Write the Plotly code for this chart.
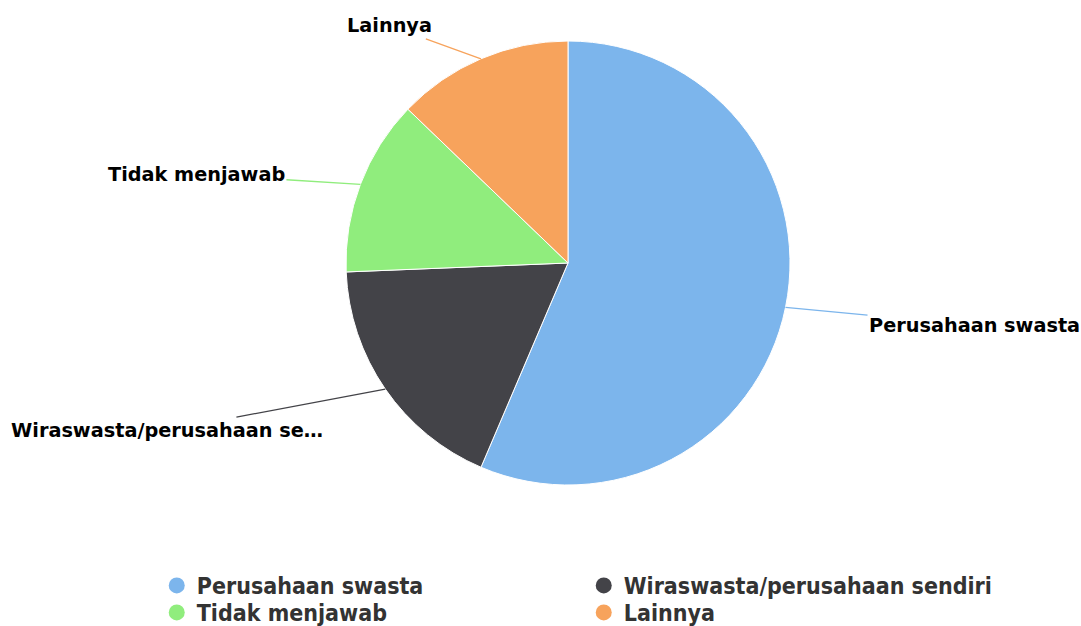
import math
import plotly.graph_objects as go

# Pie chart in Highcharts style, labels outside with connectors

labels = ["Perusahaan swasta", "Wiraswasta/perusahaan sendiri", "Tidak menjawab", "Lainnya"]
values = [22, 7, 5, 5]
colors = ["#7cb5ec", "#434348", "#90ed7d", "#f7a35c"]

W, H = 1081, 626
CX, CY, R = 568, 263, 222

# label offsets (px) from the slice edge to the text centre
label_offsets = [(189, 18), (-218, 41), (-164, -10), (-91, -33)]


def short(txt, n=24):
    return txt if len(txt) <= n else txt[:n] + "…"


fig = go.Figure()

fig.add_trace(go.Pie(
    labels=labels,
    values=values,
    sort=False,
    direction="clockwise",
    rotation=0,
    marker=dict(colors=colors, line=dict(color="white", width=1)),
    textinfo="none",
    showlegend=False,
    hoverinfo="label+percent",
    domain=dict(x=[(CX - R) / W, (CX + R) / W], y=[1 - (CY + R) / H, 1 - (CY - R) / H]),
))

# legend entries with round symbols, two per row (one legend per row)
for i, (lab, col) in enumerate(zip(labels, colors)):
    fig.add_trace(go.Scatter(
        x=[None], y=[None], mode="markers", name=lab,
        legend="legend" if i < 2 else "legend2",
        marker=dict(color=col, size=18, symbol="circle"),
    ))

# outside labels with connector lines
total = sum(values)
start = 0.0
annotations = []
for lab, val, col, (ox, oy) in zip(labels, values, colors, label_offsets):
    mid = (start + val / 2) / total * 2 * math.pi
    start += val
    ex = CX + R * math.sin(mid)
    ey = CY - R * math.cos(mid)
    annotations.append(dict(
        x=ex / W, y=1 - ey / H, xref="paper", yref="paper",
        text=short(lab), showarrow=True, arrowhead=0, arrowwidth=1.3,
        arrowcolor=col, ax=ox, ay=oy, standoff=0,
        font=dict(family="DejaVu Sans", size=19.3, color="#000000", weight="bold"),
    ))

legend_style = dict(
    orientation="h",
    xref="container", yref="container",
    x=0.145, xanchor="left", yanchor="top",
    entrywidth=382,
    bgcolor="rgba(0,0,0,0)",
    font=dict(family="DejaVu Sans Condensed", size=23, color="#333333", weight="bold"),
)

fig.update_layout(
    width=W, height=H,
    margin=dict(l=0, r=0, t=0, b=0, autoexpand=False),
    paper_bgcolor="white",
    plot_bgcolor="white",
    xaxis=dict(visible=False),
    yaxis=dict(visible=False),
    annotations=annotations,
    legend=dict(legend_style, y=1 - 564 / H),
    legend2=dict(legend_style, y=1 - 591 / H),
)

fig.write_html(
    "out.html",
    config={"displayModeBar": False},
    post_script="document.body.style.margin='0';",
)
